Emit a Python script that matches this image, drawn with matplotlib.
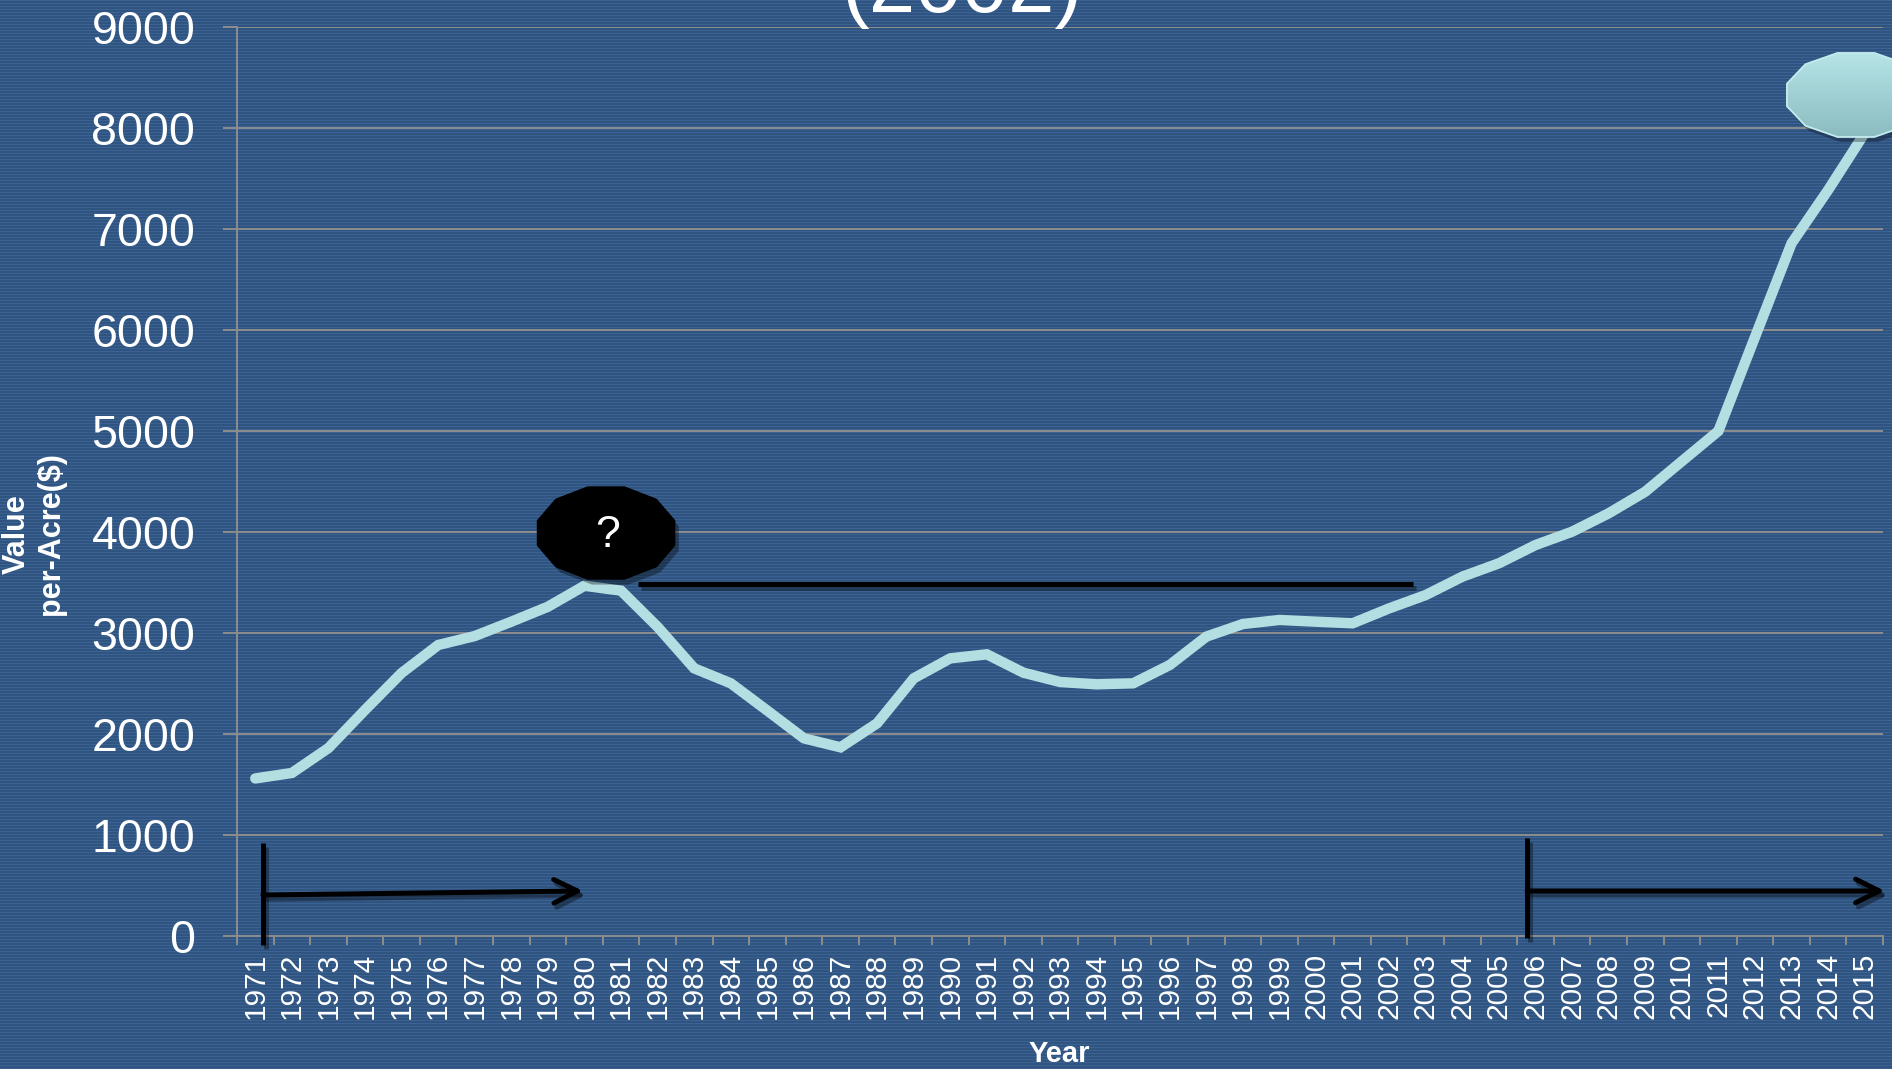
import numpy as np
import matplotlib.pyplot as plt
from matplotlib.patches import Polygon
from matplotlib.colors import LinearSegmentedColormap
from matplotlib import patheffects as pe

plt.rcParams['font.family'] = ['Liberation Sans', 'DejaVu Sans']

# data
years = list(range(1971, 2016))
values = [1560, 1614, 1861, 2238, 2604, 2881, 2970, 3112, 3260, 3468,
          3419, 3060, 2650, 2502, 2231, 1957, 1868, 2106, 2551, 2749,
          2789, 2607, 2515, 2492, 2502, 2683, 2964, 3089, 3129, 3112,
          3096, 3244, 3376, 3558, 3690, 3871, 4003, 4185, 4399, 4700,
          5000, 5930, 6858, 7386, 7950]
y_ticks = [0, 1000, 2000, 3000, 4000, 5000, 6000, 7000, 8000, 9000]

W, H = 1892, 1069
grid_col = '#8d8d8d'


def dodecagon(cx, cy, w, h):
    ang = np.deg2rad(np.arange(15, 360, 30))
    c = np.cos(np.deg2rad(15))
    return np.column_stack([cx + w / 2 * np.cos(ang) / c,
                            cy + h / 2 * np.sin(ang) / c])


fig = plt.figure(figsize=(W / 100, H / 100), dpi=100)

# striped blue background
rows = np.arange(H)
bg = np.zeros((H, W, 3))
dark = np.array([0x30, 0x54, 0x80]) / 255
light = np.array([0x3b, 0x62, 0x92]) / 255
bg[:] = dark
bg[rows % 3 == 0] = light
fig.figimage(bg, xo=0, yo=0, zorder=-10)

ax = fig.add_axes([237 / W, 1 - 936 / H, (1883 - 237) / W, (936 - 27) / H])
ax.set_facecolor('none')
ax.set_zorder(1)

x = np.arange(len(years))
ax.plot(x, values, color='#b4dfe2', lw=7.5, solid_capstyle='round',
        solid_joinstyle='miter', zorder=3)

ax.set_xlim(-0.5, len(years) - 0.5)
ax.set_ylim(0, 9000)
ax.set_yticks(y_ticks)
ax.set_xticks(x)
ax.set_xticklabels([str(y) for y in years], rotation=90)
ax.set_xticks(np.arange(len(years) + 1) - 0.5, minor=True)

ax.grid(axis='y', color=grid_col, lw=1.4)
ax.set_axisbelow(True)
for s in ['top', 'right']:
    ax.spines[s].set_visible(False)
for s in ['left', 'bottom']:
    ax.spines[s].set_color(grid_col)
    ax.spines[s].set_linewidth(1.4)

ax.tick_params(axis='y', length=10, width=1.4, color=grid_col, pad=20,
               labelsize=33.5, labelcolor='white')
ax.tick_params(axis='x', which='major', length=0, pad=12,
               labelsize=21.5, labelcolor='white')
ax.tick_params(axis='x', which='minor', length=6.5, width=1.4,
               color=grid_col)

fig.text(34 / W, 1 - 534 / H, 'Value\nper-Acre($)', rotation=90,
         ha='center', va='center', ma='center', fontsize=22,
         fontweight='bold', color='white', linespacing=1.2)
fig.text(1059 / W, 1 - 1054 / H, 'Year', ha='center', va='center',
         fontsize=21, fontweight='bold', color='white')
fig.text(962 / W, 1 - 12 / H, '(2002)', ha='center', va='baseline',
         fontsize=60, color='white')

shadow = [pe.SimpleLineShadow(offset=(2, -3), alpha=0.35), pe.Normal()]
pshadow = [pe.SimplePatchShadow(offset=(3, -4), alpha=0.35), pe.Normal()]

# black "?" marker and plateau line
q = Polygon(dodecagon(9.59, 3990, 3.75, 911), closed=True, fc='black',
            ec='black', zorder=6, path_effects=pshadow)
ax.add_patch(q)
ax.text(9.62, 3970, '?', ha='center', va='center', fontsize=32,
        color='white', zorder=7)
ax.plot([10.46, 31.65], [3485, 3485], color='black', lw=3.6,
        solid_capstyle='butt', zorder=5, path_effects=shadow)

# period arrows
for xv, y0, y1 in [(0.21, 921, -89), (34.77, 970, -20)]:
    ax.plot([xv, xv], [y0, y1], color='black', lw=3.6, clip_on=False,
            solid_capstyle='butt', zorder=5, path_effects=shadow)
astyle = '->,head_length=1.7,head_width=0.85'
ax.annotate('', xy=(8.96, 446), xytext=(0.21, 406),
            arrowprops=dict(arrowstyle=astyle, color='black', lw=3.6,
                            shrinkA=0, shrinkB=0, path_effects=shadow),
            annotation_clip=False, zorder=5)
ax.annotate('', xy=(44.55, 446), xytext=(34.77, 446),
            arrowprops=dict(arrowstyle=astyle, color='black', lw=3.6,
                            shrinkA=0, shrinkB=0, path_effects=shadow),
            annotation_clip=False, zorder=5)

# teal marker top right, drawn on a full-figure overlay in pixel units
ov = fig.add_axes([0, 0, 1, 1])
ov.set_xlim(0, W)
ov.set_ylim(0, H)
ov.axis('off')
ov.set_zorder(2)
cx, cy = ax.transData.transform((43.76, 8327))
poly_xy = dodecagon(cx, cy, 138, 84)
sh = Polygon(poly_xy + [3, -5], closed=True, fc='black', ec='none',
             alpha=0.3, zorder=1)
ov.add_patch(sh)
tp = Polygon(poly_xy, closed=True, fc='none', ec='#c4ecee', lw=1.3,
             zorder=3)
ov.add_patch(tp)
cmap = LinearSegmentedColormap.from_list('teal', ['#b6e4e7', '#8bbcc0'])
im = ov.imshow(np.linspace(0, 1, 100).reshape(-1, 1), cmap=cmap,
               extent=[poly_xy[:, 0].min(), poly_xy[:, 0].max(),
                       poly_xy[:, 1].min(), poly_xy[:, 1].max()],
               origin='upper', aspect='auto', zorder=2)
im.set_clip_path(tp)
ov.set_xlim(0, W)
ov.set_ylim(0, H)

fig.savefig('out.png', dpi=100)
